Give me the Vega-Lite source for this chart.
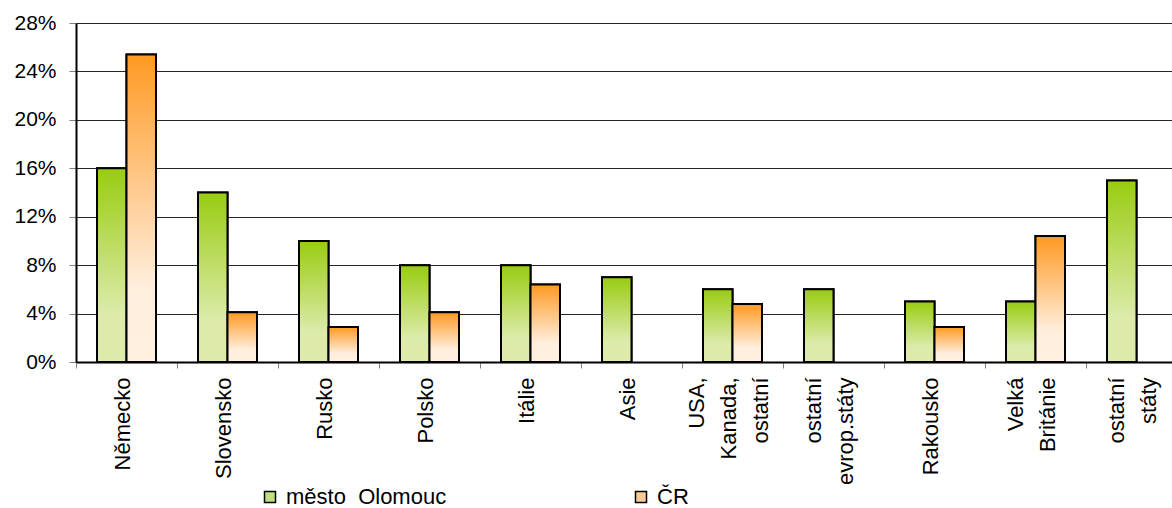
{
  "$schema": "https://vega.github.io/schema/vega-lite/v6.json",
  "width": 1096,
  "height": 339,
  "autosize": {"type": "none"},
  "padding": {"left": 76, "top": 23, "right": 0, "bottom": 146},
  "background": "white",
  "config": {"view": {"stroke": null}, "font": "Liberation Sans"},
  "data": {
    "values": [
      {"country": "Německo", "series": "město\u00a0 Olomouc", "value": 0.16},
      {"country": "Německo", "series": "ČR", "value": 0.254},
      {"country": "Slovensko", "series": "město\u00a0 Olomouc", "value": 0.14},
      {"country": "Slovensko", "series": "ČR", "value": 0.041},
      {"country": "Rusko", "series": "město\u00a0 Olomouc", "value": 0.10},
      {"country": "Rusko", "series": "ČR", "value": 0.029},
      {"country": "Polsko", "series": "město\u00a0 Olomouc", "value": 0.08},
      {"country": "Polsko", "series": "ČR", "value": 0.041},
      {"country": "Itálie", "series": "město\u00a0 Olomouc", "value": 0.08},
      {"country": "Itálie", "series": "ČR", "value": 0.064},
      {"country": "Asie", "series": "město\u00a0 Olomouc", "value": 0.07},
      {"country": "USA,|Kanada,|ostatní", "series": "město\u00a0 Olomouc", "value": 0.06},
      {"country": "USA,|Kanada,|ostatní", "series": "ČR", "value": 0.048},
      {"country": "ostatní|evrop.státy", "series": "město\u00a0 Olomouc", "value": 0.06},
      {"country": "Rakousko", "series": "město\u00a0 Olomouc", "value": 0.05},
      {"country": "Rakousko", "series": "ČR", "value": 0.029},
      {"country": "Velká|Británie", "series": "město\u00a0 Olomouc", "value": 0.05},
      {"country": "Velká|Británie", "series": "ČR", "value": 0.104},
      {"country": "ostatní|státy", "series": "město\u00a0 Olomouc", "value": 0.15}
    ]
  },
  "encoding": {
    "x": {
      "field": "country",
      "type": "nominal",
      "sort": null,
      "scale": {"range": [0, 1111], "paddingInner": 0, "paddingOuter": 0},
      "axis": {
        "title": null,
        "labelAngle": -90,
        "labelAlign": "right",
        "labelBaseline": "middle",
        "labelFont": "Liberation Sans",
        "labelFontSize": 22,
        "labelLineHeight": 32,
        "labelColor": "black",
        "labelExpr": "length(split(datum.label, '|')) == 1 ? datum.label : length(split(datum.label, '|')) == 2 ? [pad(split(datum.label, '|')[0], length(split(datum.label, '|')[0]) + round(0.8 * (max(length(split(datum.label, '|')[0]), length(split(datum.label, '|')[1])) - length(split(datum.label, '|')[0]))), ' '), pad(split(datum.label, '|')[1], length(split(datum.label, '|')[1]) + round(0.8 * (max(length(split(datum.label, '|')[0]), length(split(datum.label, '|')[1])) - length(split(datum.label, '|')[1]))), ' ')] : [pad(split(datum.label, '|')[0], length(split(datum.label, '|')[0]) + round(0.8 * (max(length(split(datum.label, '|')[0]), length(split(datum.label, '|')[1]), length(split(datum.label, '|')[2])) - length(split(datum.label, '|')[0]))), ' '), pad(split(datum.label, '|')[1], length(split(datum.label, '|')[1]) + round(0.8 * (max(length(split(datum.label, '|')[0]), length(split(datum.label, '|')[1]), length(split(datum.label, '|')[2])) - length(split(datum.label, '|')[1]))), ' '), pad(split(datum.label, '|')[2], length(split(datum.label, '|')[2]) + round(0.8 * (max(length(split(datum.label, '|')[0]), length(split(datum.label, '|')[1]), length(split(datum.label, '|')[2])) - length(split(datum.label, '|')[2]))), ' ')]",
        "labelPadding": 9,
        "labelOffset": {"condition": [
          {"test": "length(split(datum.value, '|')) == 3", "value": -36},
          {"test": "length(split(datum.value, '|')) == 2", "value": -20}
        ], "value": -4},
        "labelLimit": 300,
        "labelOverlap": false,
        "tickBand": "extent",
        "tickSize": 6,
        "tickColor": "#808080",
        "domainColor": "black",
        "domainWidth": 2,
        "grid": false
      }
    },
    "xOffset": {
      "field": "series",
      "type": "nominal",
      "scale": {"domain": ["město\u00a0 Olomouc", "ČR"], "paddingInner": 0, "paddingOuter": 0.712}
    },
    "y": {
      "field": "value",
      "type": "quantitative",
      "scale": {"domain": [0, 0.28], "nice": false},
      "axis": {
        "title": null,
        "values": [0, 0.04, 0.08, 0.12, 0.16, 0.2, 0.24, 0.28],
        "format": ".0%",
        "labelFont": "Liberation Sans",
        "labelFontSize": 21,
        "labelColor": "black",
        "labelPadding": 13,
        "tickSize": 7,
        "tickColor": "#808080",
        "domainColor": "black",
        "domainWidth": 2,
        "grid": true,
        "gridColor": "#262626",
        "gridWidth": 1
      }
    }
  },
  "layer": [
    {
      "mark": {"type": "bar", "stroke": "black", "strokeWidth": 2},
      "encoding": {
        "fill": {
          "field": "series",
          "type": "nominal",
          "scale": {"domain": ["město\u00a0 Olomouc", "ČR"], "range": ["#c2df80", "#ffc894"]},
          "legend": {
            "orient": "none",
            "legendX": 183,
            "legendY": 463,
            "direction": "horizontal",
            "title": null,
            "symbolType": "square",
            "symbolSize": 121,
            "labelFont": "Liberation Sans",
            "labelFontSize": 22,
            "labelColor": "black",
            "labelOffset": 5,
            "labelLimit": 400,
            "columnPadding": 183,
            "padding": 0,
            "encode": {
              "symbols": {
                "update": {
                  "fill": {
                    "condition": {
                      "test": "datum.value === 'ČR'",
                      "value": {"gradient": "linear", "x1": 0, "y1": 0, "x2": 0, "y2": 1, "stops": [{"offset": 0, "color": "#ff9922"}, {"offset": 1, "color": "#fff0e0"}]}
                    },
                    "value": {"gradient": "linear", "x1": 0, "y1": 0, "x2": 0, "y2": 1, "stops": [{"offset": 0, "color": "#99cc11"}, {"offset": 1, "color": "#dcebaa"}]}
                  },
                  "stroke": {"value": "black"},
                  "strokeWidth": {"value": 1.5},
                  "opacity": {"value": 1}
                }
              }
            }
          }
        }
      }
    },
    {
      "transform": [{"filter": "datum.series !== 'ČR'"}],
      "mark": {
        "type": "bar",
        "stroke": "black",
        "strokeWidth": 2,
        "fill": {"gradient": "linear", "x1": 0, "y1": 0, "x2": 0, "y2": 1, "stops": [
          {"offset": 0, "color": "#99cc11"},
          {"offset": 0.75, "color": "#dcebaa"},
          {"offset": 1, "color": "#dcebaa"}]}
      }
    },
    {
      "transform": [{"filter": "datum.series === 'ČR'"}],
      "mark": {
        "type": "bar",
        "stroke": "black",
        "strokeWidth": 2,
        "fill": {"gradient": "linear", "x1": 0, "y1": 0, "x2": 0, "y2": 1, "stops": [
          {"offset": 0, "color": "#ff9922"},
          {"offset": 0.75, "color": "#ffeedc"},
          {"offset": 1, "color": "#fff0e0"}]}
      }
    }
  ]
}
